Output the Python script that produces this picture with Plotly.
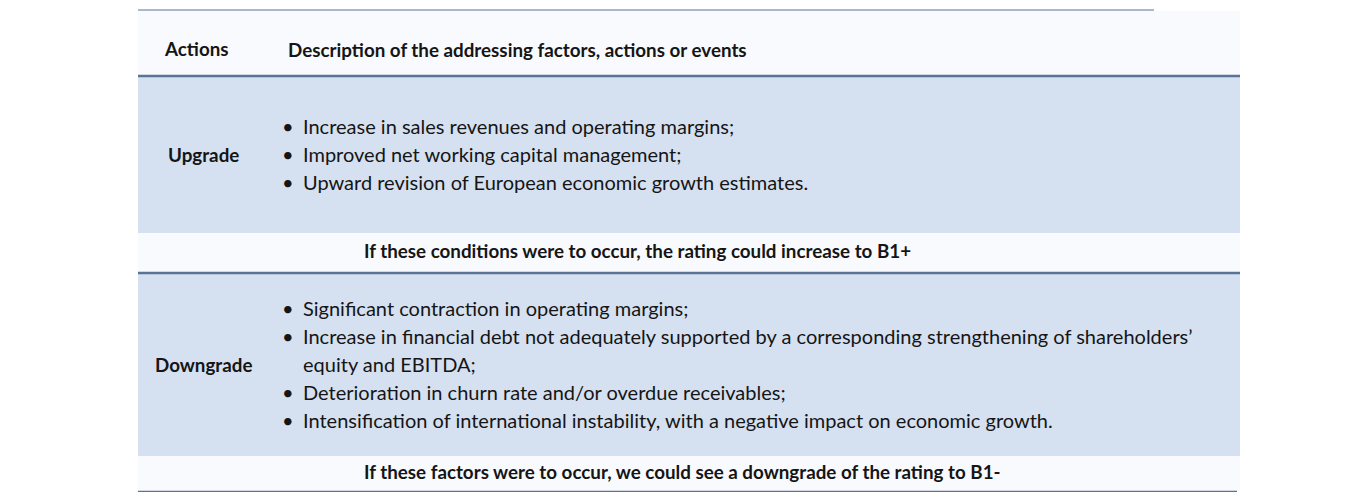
import plotly.graph_objects as go

# table content
header = ["Actions", "Description of the addressing factors, actions or events"]
actions = ["Upgrade", "Downgrade"]
upgrade_points = [
    ["Increase in sales revenues and operating margins;"],
    ["Improved net working capital management;"],
    ["Upward revision of European economic growth estimates."],
]
downgrade_points = [
    ["Significant contraction in operating margins;"],
    ["Increase in financial debt not adequately supported by a corresponding strengthening of shareholders\u2019",
     "equity and EBITDA;"],
    ["Deterioration in churn rate and/or overdue receivables;"],
    ["Intensification of international instability, with a negative impact on economic growth."],
]
outcomes = [
    "If these conditions were to occur, the rating could increase to B1+",
    "If these factors were to occur, we could see a downgrade of the rating to B1-",
]

# layout in page pixels (page body has an 8px margin)
W, H = 1362, 500
pad = 8
left, right = 138, 1240
top = 11
header_h = 64
body_h = [156, 182]
footer_h = [39, 35]
line_gap = 27.8

light_bg = "#f8fafd"
row_bg = "#d5e1f1"
rule = "#5b7396"
font = "Lato, 'Open Sans', sans-serif"
ink = "#151515"
bold_size = 18.8
body_size = 20

shapes = []
annotations = []

def text(x, y, s, size, bold=False, xanchor="left"):
    annotations.append(dict(
        x=x, y=y, xref="x", yref="y", text=f"<b>{s}</b>" if bold else s,
        showarrow=False, xanchor=xanchor, yanchor="middle",
        font=dict(family=font, size=size, color=ink)))

def rect(y0, y1, color):
    shapes.append(dict(type="rect", xref="x", yref="y", x0=left, x1=right,
                       y0=y0, y1=y1, fillcolor=color, line=dict(width=0), layer="below"))

def hline(y, x1, width, color):
    shapes.append(dict(type="line", xref="x", yref="y", x0=left, x1=x1,
                       y0=y, y1=y, line=dict(color=color, width=width)))

# header
rect(top, top + header_h, light_bg)
hline(top - 1, 1154, 1.5, "#8ea0b9")
text(196, top + 37, header[0], bold_size, bold=True, xanchor="center")
text(286, top + 38, header[1], bold_size, bold=True)

y = top + header_h
hline(y + 1, right, 2.5, rule)
y += 2
for i, (act, points) in enumerate(zip(actions, [upgrade_points, downgrade_points])):
    rect(y, y + body_h[i], row_bg)
    mid = y + body_h[i] / 2
    text(203, mid - 1, act, bold_size, bold=True, xanchor="center")
    lines = []
    for p in points:
        for j, ln in enumerate(p):
            lines.append((j == 0, ln))
    first = mid - 1 - line_gap * (len(lines) - 1) / 2
    for k, (bullet, ln) in enumerate(lines):
        ly = first + k * line_gap
        if bullet:
            text(288, ly, "\u2022", body_size, xanchor="center")
        text(301, ly, ln, body_size)
    y += body_h[i]
    rect(y, y + footer_h[i], light_bg)
    text(362, y + footer_h[i] / 2 - 2.5, outcomes[i], bold_size, bold=True)
    y += footer_h[i]
    hline(y + 1, right if i == 0 else 1237, 2.5, rule)
    y += 2

fig = go.Figure()
fig.update_layout(
    width=W - 2 * pad, height=H - 2 * pad, margin=dict(l=0, r=0, t=0, b=0),
    paper_bgcolor="white", plot_bgcolor="white",
    xaxis=dict(range=[pad, W - pad], visible=False, fixedrange=True),
    yaxis=dict(range=[H - pad, pad], visible=False, fixedrange=True),
    shapes=shapes, annotations=annotations, showlegend=False,
)
fig.write_html("out.html")
